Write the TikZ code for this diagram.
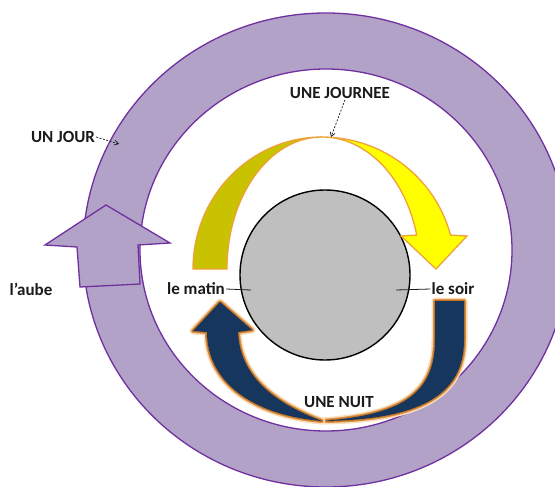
\documentclass[tikz,border=0pt]{standalone}
\usepackage{fontspec}
\setmainfont{Carlito}
\usetikzlibrary{arrows.meta}
\definecolor{ringfill}{HTML}{B3A2C7}
\definecolor{ringline}{HTML}{7030A0}
\definecolor{dayolive}{RGB}{200,194,0}
\definecolor{dayyellow}{HTML}{FFFF00}
\definecolor{dayorange}{HTML}{EEA23A}
\definecolor{nightblue}{HTML}{17365D}
\definecolor{glowdark}{HTML}{C8741E}
\definecolor{glowlight}{HTML}{FBDDBA}
\definecolor{earthgray}{HTML}{BFBFBF}
\definecolor{txt}{HTML}{1A1A1A}
\tikzset{
  lbl/.style={text=txt, inner sep=1pt, font=\fontsize{17}{20}\selectfont\bfseries},
  ringstroke/.style={draw=ringline, line width=1.3pt},
  daypart/.style={draw=dayorange, line width=1.3pt, line join=miter},
  nightpart/.style={fill=nightblue, line join=round,
    preaction={draw=glowlight, line width=7pt, line join=round},
    preaction={draw=glowdark!70!glowlight, line width=4pt, line join=round},
    preaction={draw=glowdark, line width=2pt, line join=round}},
  pointer/.style={draw=txt, line width=0.7pt, dash pattern=on 2pt off 1.5pt, -{Straight Barb[length=4pt,width=5pt]}},
  tick/.style={draw=txt, line width=0.8pt}
}
\begin{document}
\begin{tikzpicture}[x=1pt,y=-1pt]
\useasboundingbox (0,0) rectangle (555,487);
\clip (0,0) rectangle (555,487);
\fill[white] (0,0) rectangle (555,487);
% purple ring
\fill[ringfill, even odd rule] (326,250) ellipse [x radius=243, y radius=237]
  (326,250) ellipse [x radius=186, y radius=181];
\draw[ringstroke] (326,250) ellipse [x radius=243, y radius=237];
\draw[ringstroke] (326,250) ellipse [x radius=186, y radius=181];
% dawn arrow
\filldraw[fill=ringfill, ringstroke, line join=miter] (106,205) -- (170,243) -- (138,245) -- (140,284)
  -- (80,287) -- (77,247) -- (45,245) -- cycle;
% earth
\node[circle, draw=black, fill=earthgray, line width=1.4pt, minimum size=170pt, inner sep=0pt] (earth) at (325,275) {};
% day arrow, left half
\filldraw[fill=dayolive, daypart] (193,269) arc[start angle=180, end angle=270, x radius=129, y radius=132]
  arc[start angle=270, end angle=180, x radius=95, y radius=132] -- cycle;
% day arrow, right half with head
\filldraw[fill=dayyellow, daypart] (322,137) arc[start angle=270, end angle=345.1, x radius=133, y radius=132]
  -- (467,236) -- (436,269) -- (401,236) -- (416.7,235.06)
  arc[start angle=345.1, end angle=270, x radius=98, y radius=132] -- cycle;
% night arrow, right half
\path[nightpart] (435,301) -- (464,301) -- (464,340) .. controls (464,395) and (420,420) .. (322,421)
  .. controls (400,415) and (435,395) .. (435,340) -- cycle;
% night arrow, left half with head
\path[nightpart] (207,332) .. controls (207,380) and (250,415) .. (322,421)
  .. controls (280,405) and (240,380) .. (238,332) -- (252,330) -- (220,302) -- (193,331) -- cycle;
% labels
\node[lbl] (unjour) at (63,137) {UN JOUR};
\node[lbl] (journee) at (340,93) {UNE JOURNEE};
\node[lbl] (nuit) at (339,402) {UNE NUIT};
\node[lbl] (aube) at (31,289) {l’aube};
\node[lbl] (matin) at (196,289) {le matin};
\node[lbl] (soir) at (453,289) {le soir};
\coordinate (jourtip) at (119,144);
\coordinate (journeetip) at (331,137);
\coordinate (matintick) at (251,290);
\coordinate (soirtick) at (396,290);
\draw[pointer] (unjour.east) -- (jourtip);
\draw[pointer] ([xshift=5pt]journee.south) -- (journeetip);
\draw[tick] (matin.east) -- (matintick);
\draw[tick] (soirtick) -- (soir.west);
\end{tikzpicture}
\end{document}
